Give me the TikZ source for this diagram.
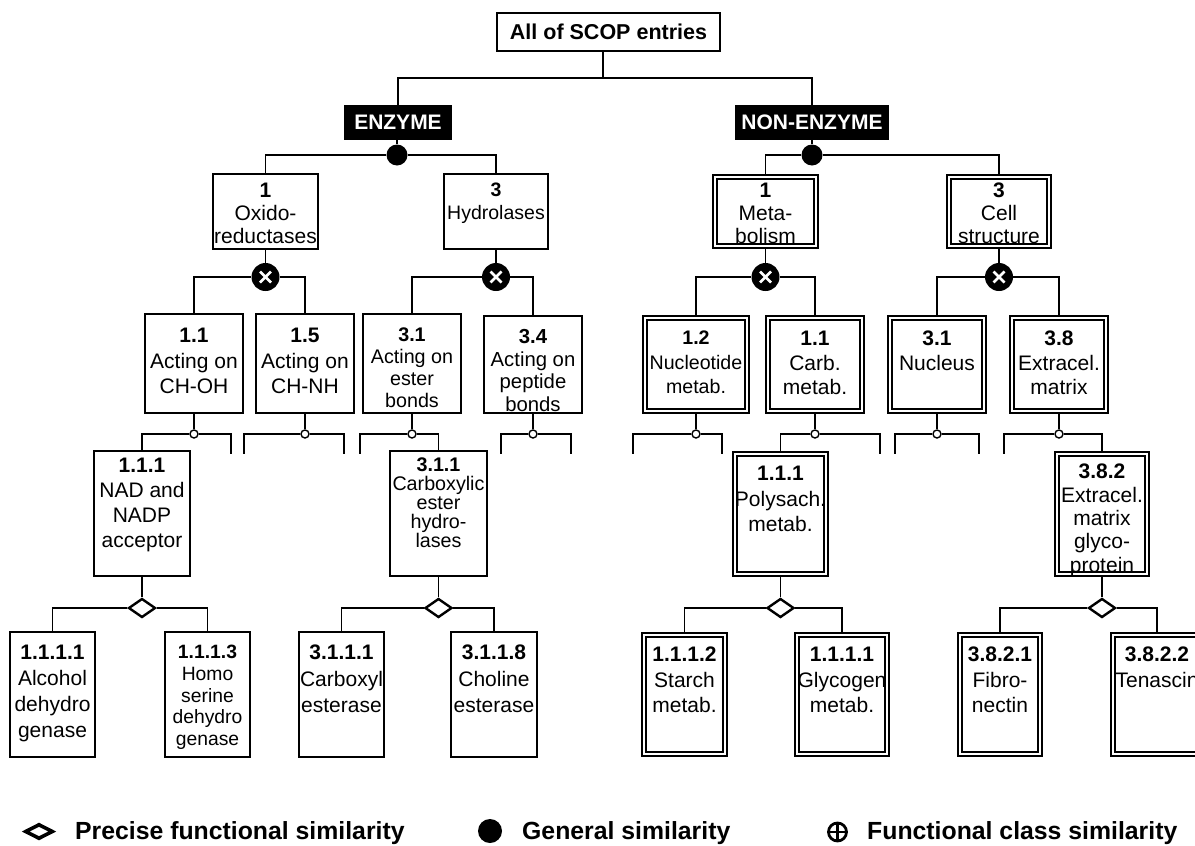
\documentclass[tikz,border=0pt]{standalone}
\usepackage{fontspec}
\setmainfont{Liberation Sans}
\usetikzlibrary{shapes.geometric,calc}
\pgfdeclarelayer{bg}
\pgfsetlayers{bg,main}
\tikzset{
  sbox/.style={draw, rectangle, line width=1.8pt, fill=white, inner sep=0pt},
  dbox/.style={draw, rectangle, double, double distance=2.4pt, line width=1.8pt, fill=white, inner sep=0pt},
  blk/.style={rectangle, fill=black, text=white, inner sep=0pt, font=\bfseries\fontsize{21}{25}\selectfont},
  conn/.style={line width=1.7pt},
  tx/.style={inner sep=0pt, align=center, anchor=north, font=\fontsize{21}{25}\selectfont},
  gsym/.style={circle, fill=black, minimum size=21pt, inner sep=0pt},
  xsym/.style={circle, fill=black, minimum size=28pt, inner sep=0pt,
    path picture={
      \draw[white, line width=2.6pt]
        ([shift={(-5.5pt,-5.5pt)}]path picture bounding box.center) -- ([shift={(5.5pt,5.5pt)}]path picture bounding box.center)
        ([shift={(-5.5pt,5.5pt)}]path picture bounding box.center) -- ([shift={(5.5pt,-5.5pt)}]path picture bounding box.center);
    }},
  osym/.style={circle, draw, fill=white, line width=1.4pt, minimum size=8pt, inner sep=0pt},
  dsym/.style={diamond, draw, fill=white, line width=2.4pt, minimum width=27pt, minimum height=19pt, inner sep=0pt},
  ldia/.style={diamond, draw, fill=white, line width=3.6pt, minimum width=28pt, minimum height=15pt, inner sep=0pt},
  lplus/.style={circle, draw, line width=2.8pt, minimum size=18pt, inner sep=0pt,
    path picture={
      \draw[line width=2.8pt]
        ([shift={(0pt,-12pt)}]path picture bounding box.center) -- ([shift={(0pt,12pt)}]path picture bounding box.center)
        ([shift={(-12pt,0pt)}]path picture bounding box.center) -- ([shift={(12pt,0pt)}]path picture bounding box.center);
    }},
  ltxt/.style={inner sep=0pt, anchor=base west, font=\bfseries\fontsize{24.8}{28}\selectfont},
}
\begin{document}
\begin{tikzpicture}[x=1pt, y=-1pt]
\useasboundingbox (0,0) rectangle (1195,846);

% ---------- top ----------
\node[sbox, minimum width=223pt, minimum height=38pt, font=\bfseries\fontsize{21.5}{25}\selectfont] (all) at (608.5,32) {All of SCOP entries};
\coordinate (jt) at (603,78);
\node[blk, minimum width=108pt, minimum height=35pt] (enz) at (398,122.5) {ENZYME};
\node[blk, minimum width=154pt, minimum height=35pt] (nen) at (812,122.5) {NON-ENZYME};
\node[gsym] (g1) at (397,155) {};
\node[gsym] (g2) at (812,155) {};

% ---------- level 1 ----------
\node[sbox, minimum width=105pt, minimum height=75pt] (ox) at (265.5,211.5) {};
\node[sbox, minimum width=104pt, minimum height=75pt] (hy) at (496,211.5) {};
\node[dbox, minimum width=101pt, minimum height=69pt] (me) at (765.5,211.5) {};
\node[dbox, minimum width=100pt, minimum height=69pt] (ce) at (999,211.5) {};
\node[tx, font=\fontsize{21}{23}\selectfont] (tox) at (ox.north |- 0,183) {\textbf{1}\\Oxido-\\reductases};
\node[tx, font=\fontsize{19.5}{23}\selectfont] (thy) at (hy.north |- 0,183) {\textbf{3}\\Hydrolases};
\node[tx, font=\fontsize{21}{23}\selectfont] (tme) at (me.north |- 0,183) {\textbf{1}\\Meta-\\bolism};
\node[tx, font=\fontsize{21}{23}\selectfont] (tce) at (ce.north |- 0,183) {\textbf{3}\\Cell\\structure};

\node[xsym] (x1) at (265.5,277) {};
\node[xsym] (x2) at (496,277) {};
\node[xsym] (x3) at (765.5,277) {};
\node[xsym] (x4) at (999,277) {};

% ---------- level 2 ----------
\node[sbox, minimum width=98pt, minimum height=99pt] (a11) at (194,363.5) {};
\node[sbox, minimum width=98pt, minimum height=99pt] (a15) at (305,363.5) {};
\node[sbox, minimum width=98pt, minimum height=99pt] (a31) at (412,363.5) {};
\node[sbox, minimum width=98pt, minimum height=97pt] (a34) at (533,364.5) {};
\node[dbox, minimum width=102pt, minimum height=93pt] (b12) at (696,364.5) {};
\node[dbox, minimum width=94pt, minimum height=93pt] (b11) at (815,364.5) {};
\node[dbox, minimum width=94pt, minimum height=93pt] (b31) at (937,364.5) {};
\node[dbox, minimum width=94pt, minimum height=93pt] (b38) at (1059,364.5) {};
\node[tx, font=\fontsize{21}{25.5}\selectfont] (ta11) at (a11.north |- 0,328) {\textbf{1.1}\\Acting on\\CH-OH};
\node[tx, font=\fontsize{21}{25.5}\selectfont] (ta15) at (a15.north |- 0,328) {\textbf{1.5}\\Acting on\\CH-NH};
\node[tx, font=\fontsize{19.7}{21.7}\selectfont] (ta31) at (a31.north |- 0,328) {\textbf{3.1}\\Acting on\\ester\\bonds};
\node[tx, font=\fontsize{20.3}{22.7}\selectfont] (ta34) at (a34.north |- 0,329) {\textbf{3.4}\\Acting on\\peptide\\bonds};
\node[tx, font=\fontsize{19.6}{24.5}\selectfont] (tb12) at (b12.north |- 0,331) {\textbf{1.2}\\Nucleotide\\metab.};
\node[tx, font=\fontsize{21}{24.5}\selectfont] (tb11) at (b11.north |- 0,331) {\textbf{1.1}\\Carb.\\metab.};
\node[tx, font=\fontsize{21}{24.5}\selectfont] (tb31) at (b31.north |- 0,331) {\textbf{3.1}\\Nucleus};
\node[tx, font=\fontsize{21}{24.5}\selectfont] (tb38) at (b38.north |- 0,331) {\textbf{3.8}\\Extracel.\\matrix};

\node[osym] (o1) at (194,434) {};
\node[osym] (o2) at (305,434) {};
\node[osym] (o3) at (412,434) {};
\node[osym] (o4) at (533,434) {};
\node[osym] (o5) at (696,434) {};
\node[osym] (o6) at (815,434) {};
\node[osym] (o7) at (937,434) {};
\node[osym] (o8) at (1059,434) {};
\coordinate (s1r) at (231,454);
\coordinate (s2l) at (244,454);
\coordinate (s2r) at (344,454);
\coordinate (s3l) at (360,454);
\coordinate (s4l) at (501,454);
\coordinate (s4r) at (571,454);
\coordinate (s5l) at (633,454);
\coordinate (s5r) at (722,454);
\coordinate (s6r) at (880,454);
\coordinate (s7l) at (895,454);
\coordinate (s7r) at (979,454);
\coordinate (s8l) at (1004,454);

% ---------- level 3 ----------
\node[sbox, minimum width=96pt, minimum height=125pt] (c111) at (142,513.5) {};
\node[sbox, minimum width=97pt, minimum height=125pt] (c311) at (438.5,513.5) {};
\node[dbox, minimum width=91pt, minimum height=120pt] (d111) at (780.5,514) {};
\node[dbox, minimum width=90pt, minimum height=120pt] (d382) at (1102,514) {};
\node[tx, font=\fontsize{21}{25}\selectfont] (tc111) at (c111.north |- 0,458) {\textbf{1.1.1}\\NAD and\\NADP\\acceptor};
\node[tx, font=\fontsize{19.7}{19}\selectfont] (tc311) at (c311.north |- 0,458) {\textbf{3.1.1}\\Carboxylic\\ester\\hydro-\\lases};
\node[tx, font=\fontsize{21}{25.5}\selectfont] (td111) at (d111.north |- 0,466) {\textbf{1.1.1}\\Polysach.\\metab.};
\node[tx, font=\fontsize{21}{23.3}\selectfont] (td382) at (d382.north |- 0,464) {\textbf{3.8.2}\\Extracel.\\matrix\\glyco-\\protein};

\node[dsym] (m1) at (142,608) {};
\node[dsym] (m2) at (438.5,608) {};
\node[dsym] (m3) at (780.5,608) {};
\node[dsym] (m4) at (1102,608) {};

% ---------- level 4 ----------
\node[sbox, minimum width=85pt, minimum height=125pt] (e1) at (52.5,694.5) {};
\node[sbox, minimum width=85pt, minimum height=125pt] (e2) at (207.5,694.5) {};
\node[sbox, minimum width=85pt, minimum height=125pt] (e3) at (341.5,694.5) {};
\node[sbox, minimum width=86pt, minimum height=125pt] (e4) at (494,694.5) {};
\node[dbox, minimum width=81pt, minimum height=119pt] (f1) at (684.5,694.5) {};
\node[dbox, minimum width=90pt, minimum height=119pt] (f2) at (842,694.5) {};
\node[dbox, minimum width=80pt, minimum height=119pt] (f3) at (1000,694.5) {};
\node[dbox, minimum width=88pt, minimum height=119pt] (f4) at (1157,694.5) {};
\node[tx, font=\fontsize{21}{26}\selectfont] (te1) at (e1.north |- 0,645) {\textbf{1.1.1.1}\\Alcohol\\dehydro\\genase};
\node[tx, font=\fontsize{19.3}{21.7}\selectfont] (te2) at (e2.north |- 0,645) {\textbf{1.1.1.3}\\Homo\\serine\\dehydro\\genase};
\node[tx, font=\fontsize{21}{26.5}\selectfont] (te3) at (e3.north |- 0,645) {\textbf{3.1.1.1}\\Carboxyl\\esterase};
\node[tx, font=\fontsize{21}{26.5}\selectfont] (te4) at (e4.north |- 0,645) {\textbf{3.1.1.8}\\Choline\\esterase};
\node[tx, font=\fontsize{21}{25.5}\selectfont] (tf1) at (f1.north |- 0,647) {\textbf{1.1.1.2}\\Starch\\metab.};
\node[tx, font=\fontsize{21}{25.5}\selectfont] (tf2) at (f2.north |- 0,647) {\textbf{1.1.1.1}\\Glycogen\\metab.};
\node[tx, font=\fontsize{21}{25.5}\selectfont] (tf3) at (f3.north |- 0,647) {\textbf{3.8.2.1}\\Fibro-\\nectin};
\node[tx, font=\fontsize{21}{25.5}\selectfont] (tf4) at (f4.north |- 0,647) {\textbf{3.8.2.2}\\Tenascin};

% ---------- legend ----------
\node[ldia] (l1) at (39,831.5) {};
\node[ltxt] (lt1) at (75,839) {Precise functional similarity};
\node[gsym, minimum size=24pt] (l2) at (490,831) {};
\node[ltxt] (lt2) at (522,839) {General similarity};
\node[lplus] (l3) at (837.5,832) {};
\node[ltxt] (lt3) at (867,839) {Functional class similarity};

% ---------- connectors ----------
\begin{pgfonlayer}{bg}
\draw[conn] (jt |- all.south) -- (jt) -| (enz.north);
\draw[conn] (jt) -| (nen.north);
\draw[conn] (g1 |- enz.south) -- (g1);
\draw[conn] (g2 |- nen.south) -- (g2);
\draw[conn] (g1) -| (ox.north);
\draw[conn] (g1) -| (hy.north);
\draw[conn] (g2) -| (me.north);
\draw[conn] (g2) -| (ce.north);

\draw[conn] (ox.south) -- (x1);
\draw[conn] (hy.south) -- (x2);
\draw[conn] (me.south) -- (x3);
\draw[conn] (ce.south) -- (x4);
\draw[conn] (x1) -| (a11.north);
\draw[conn] (x1) -| (a15.north);
\draw[conn] (x2) -| (a31.north);
\draw[conn] (x2) -| (a34.north);
\draw[conn] (x3) -| (b12.north);
\draw[conn] (x3) -| (b11.north);
\draw[conn] (x4) -| (b31.north);
\draw[conn] (x4) -| (b38.north);

\draw[conn] (a11.south) -- (o1);
\draw[conn] (a15.south) -- (o2);
\draw[conn] (a31.south) -- (o3);
\draw[conn] (a34.south) -- (o4);
\draw[conn] (b12.south) -- (o5);
\draw[conn] (b11.south) -- (o6);
\draw[conn] (b31.south) -- (o7);
\draw[conn] (b38.south) -- (o8);
\draw[conn] (o1) -| (c111.north);
\draw[conn] (o1) -| (s1r);
\draw[conn] (o2) -| (s2l);
\draw[conn] (o2) -| (s2r);
\draw[conn] (o3) -| (s3l);
\draw[conn] (o3) -| (c311.north);
\draw[conn] (o4) -| (s4l);
\draw[conn] (o4) -| (s4r);
\draw[conn] (o5) -| (s5l);
\draw[conn] (o5) -| (s5r);
\draw[conn] (o6) -| (d111.north);
\draw[conn] (o6) -| (s6r);
\draw[conn] (o7) -| (s7l);
\draw[conn] (o7) -| (s7r);
\draw[conn] (o8) -| (s8l);
\draw[conn] (o8) -| (d382.north);

\draw[conn] (c111.south) -- (m1);
\draw[conn] (c311.south) -- (m2);
\draw[conn] (d111.south) -- (m3);
\draw[conn] (d382.south) -- (m4);
\draw[conn] (m1) -| (e1.north);
\draw[conn] (m1) -| (e2.north);
\draw[conn] (m2) -| (e3.north);
\draw[conn] (m2) -| (e4.north);
\draw[conn] (m3) -| (f1.north);
\draw[conn] (m3) -| (f2.north);
\draw[conn] (m4) -| (f3.north);
\draw[conn] (m4) -| (f4.north);
\end{pgfonlayer}
\end{tikzpicture}
\end{document}
